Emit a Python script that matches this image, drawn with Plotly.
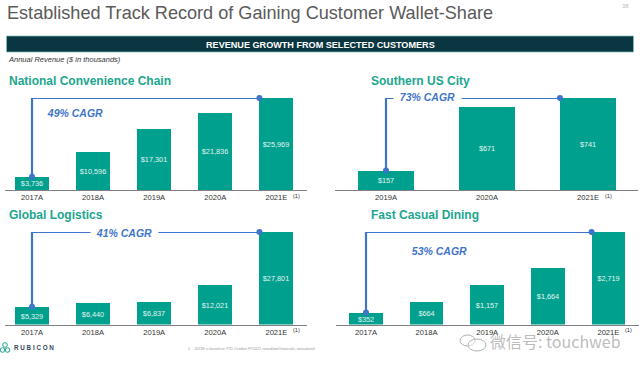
import plotly.graph_objects as go

TITLE = "Established Track Record of Gaining Customer Wallet-Share"
BANNER = "REVENUE GROWTH FROM SELECTED CUSTOMERS"
SUBTITLE = "Annual Revenue ($ in thousands)"
FOOTNOTE = "1.   2021E is based on YTD October FY2021 unaudited financials, annualized"

names = ["National Convenience Chain", "Southern US City", "Global Logistics", "Fast Casual Dining"]
years_a = ["2017A", "2018A", "2019A", "2020A", "2021E"]
years_b = ["2019A", "2020A", "2021E"]
values_a = [3736, 10596, 17301, 21836, 25969]
values_b = [157, 671, 741]
values_c = [5329, 6440, 6837, 12021, 27801]
values_d = [352, 664, 1157, 1664, 2719]
labels_a = ["$3,736", "$10,596", "$17,301", "$21,836", "$25,969"]
labels_b = ["$157", "$671", "$741"]
labels_c = ["$5,329", "$6,440", "$6,837", "$12,021", "$27,801"]
labels_d = ["$352", "$664", "$1,157", "$1,664", "$2,719"]
cagr = ["49% CAGR", "73% CAGR", "41% CAGR", "53% CAGR"]

W, H = 640, 369
TEAL = "#00A08E"
TITLE_TEAL = "#1BA68F"
BLUE = "#3F75C9"
FONT = "Liberation Sans"

def px(x):
    return x / W

def py(y):
    return 1 - y / H

# panel: categories, values, labels, centre of first bar, bar spacing, axis left/right, baseline, top, cagr label x/y, title x/y
panels = [
    (years_a, values_a, labels_a, 32, 61.1, 5, 307, 190, 98, 75.5, 113, 7.5, 81),
    (years_b, values_b, labels_b, 386, 101, 335, 638, 190, 98, 427, 97.5, 369.5, 81),
    (years_a, values_c, labels_c, 32, 61.1, 5, 307, 324.5, 232, 124.5, 232.5, 7.5, 215),
    (years_a, values_d, labels_d, 366, 60.6, 336, 639, 324.5, 232, 439.5, 251, 369.5, 215),
]
BAR = 0.555

fig = go.Figure()
shapes = []
ann = []

def text(x, y, s, size, color, anchor="left", **kw):
    ann.append(dict(x=px(x), y=py(y), xref="paper", yref="paper", text=s, showarrow=False,
                    xanchor=anchor, yanchor="middle", font=dict(size=size, color=color, family=kw.pop("family", FONT)),
                    borderpad=0, **kw))

for i, (cats, vals, labs, c0, step, ax0, ax1, base, top, lx, ly, tx, ty) in enumerate(panels):
    n = "" if i == 0 else str(i + 1)
    idx = list(range(len(cats)))
    fig.add_trace(go.Bar(x=idx, y=vals, text=labs, width=BAR, marker=dict(color=TEAL, line=dict(width=0)),
                         textposition="inside", insidetextanchor="middle", textangle=0, constraintext="none",
                         textfont=dict(size=7.3, color="#E2F4F1", family=FONT), showlegend=False,
                         hoverinfo="skip", xaxis="x" + n, yaxis="y" + n, cliponaxis=False))
    last = idx[-1] - BAR / 2
    fig.add_trace(go.Scatter(x=[idx[0], idx[0], last], y=[vals[0], vals[-1], vals[-1]], mode="lines",
                             line=dict(color=BLUE, width=2.2), showlegend=False, hoverinfo="skip",
                             xaxis="x" + n, yaxis="y" + n, cliponaxis=False))
    fig.add_trace(go.Scatter(x=[idx[0], last], y=[vals[0], vals[-1]], mode="markers",
                             marker=dict(color=BLUE, size=6), showlegend=False, hoverinfo="skip",
                             xaxis="x" + n, yaxis="y" + n, cliponaxis=False))
    fig.update_layout(**{
        "xaxis" + n: dict(domain=[px(ax0), px(ax1)], anchor="y" + n, range=[(ax0 - c0) / step, (ax1 - c0) / step],
                          tickmode="array", tickvals=idx, ticktext=cats, ticklen=0, showgrid=False, zeroline=False,
                          showline=True, linecolor="#808080", linewidth=1,
                          tickfont=dict(size=7.6, color="#333333", family=FONT)),
        "yaxis" + n: dict(domain=[py(base), py(top)], anchor="x" + n, range=[0, vals[-1]], visible=False),
    })
    text(tx, ty, "<b>" + names[i] + "</b>", 12.0, TITLE_TEAL)
    text(lx, ly, "<b><i>&nbsp;&nbsp;" + cagr[i] + "&nbsp;&nbsp;</i></b>", 10.5, BLUE, anchor="center", bgcolor="#FFFFFF")
    text(c0 + step * idx[-1] + 16, base + 5.5, "(1)", 5.6, "#333333")

# header band
shapes.append(dict(type="rect", xref="paper", yref="paper", x0=px(6.5), x1=px(633.5), y0=py(52), y1=py(36),
                   fillcolor="#0A3641", line=dict(color="#7FC4BC", width=0.7)))
text(6, 12.5, TITLE, 18.1, "#5A5A5A")
text(320, 44.5, "<b>" + BANNER + "</b>", 9.1, "#FFFFFF", anchor="center")
text(7, 59.5, "<i>" + SUBTITLE + "</i>", 7.5, "#333333")
text(625, 5.5, "38", 6, "#BBBBBB", anchor="center")
text(187, 349, FOOTNOTE, 3.7, "#999999")
text(13, 347.5, "<b>R U B I C O N</b>", 6.3, "#33475B")

# Rubicon logo rings
for cx, cy in [(5, 345), (2.5, 350), (7.5, 350)]:
    shapes.append(dict(type="circle", xref="paper", yref="paper", x0=px(cx - 2.3), x1=px(cx + 2.3),
                       y0=py(cy + 2.3), y1=py(cy - 2.3), line=dict(color="#1BA68F", width=1)))

# watermark
for x0, y0, x1, y1 in [(460, 335, 475, 346), (468, 339, 486, 351)]:
    shapes.append(dict(type="circle", xref="paper", yref="paper", x0=px(x0), x1=px(x1), y0=py(y1), y1=py(y0),
                       line=dict(color="#B0B0B0", width=1), fillcolor="rgba(255,255,255,0.5)"))
text(489, 340.5, "微信号: touchweb", 16, "rgba(120,120,120,0.5)", family="Noto Sans CJK SC")

fig.update_layout(width=W, height=H, margin=dict(l=0, r=0, t=0, b=0), paper_bgcolor="#FFFFFF", plot_bgcolor="#FFFFFF",
                  shapes=shapes, annotations=ann, showlegend=False, bargap=0)
fig.write_html("out.html", config=dict(displayModeBar=False),
               post_script="document.body.style.margin='0';")
